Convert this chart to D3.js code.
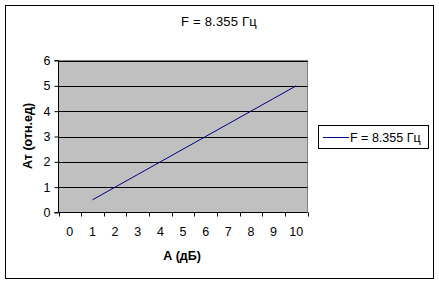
<!DOCTYPE html>
<html>
<head>
<meta charset="utf-8">
<script src="https://cdn.jsdelivr.net/npm/d3@7"></script>
<style>
  body { margin: 0; background: #fff; }
  text { font-family: Arial, "Liberation Sans", sans-serif; }
</style>
</head>
<body>
<div id="chart"></div>
<script>
// data
var categories = ["0", "1", "2", "3", "4", "5", "6", "7", "8", "9", "10"];
var values = [null, 0.5, 1, 1.5, 2, 2.5, 3, 3.5, 4, 4.5, 5];
var yTicks = [0, 1, 2, 3, 4, 5, 6];
var seriesName = "F = 8.355 Гц";
var titleText = "F = 8.355 Гц";
var xTitle = "А (дБ)";
var yTitle = "Ат (отн.ед)";

var W = 439, H = 284;
var plot = {left: 58.5, right: 307.5, top: 60.5, bottom: 212.5};

var svg = d3.select("#chart")
    .append("svg")
    .attr("width", W)
    .attr("height", H);

// outer chart border
svg.append("rect")
    .attr("x", 5.5).attr("y", 5.5)
    .attr("width", 428).attr("height", 273)
    .style("fill", "#fff")
    .style("stroke", "#000");

var x = d3.scaleBand()
    .domain(categories)
    .range([plot.left, plot.right])
    .padding(0);

var y = d3.scaleLinear()
    .domain([0, 6])
    .range([plot.bottom, plot.top]);

// plot area
svg.append("rect")
    .attr("x", plot.left).attr("y", plot.top)
    .attr("width", plot.right - plot.left)
    .attr("height", plot.bottom - plot.top)
    .style("fill", "#c0c0c0")
    .style("stroke", "#808080");

// gridlines
svg.selectAll("line.grid")
    .data(yTicks.filter(function(d) { return d > 0; }))
    .enter().append("line")
    .attr("class", "grid")
    .attr("x1", plot.left).attr("x2", plot.right)
    .attr("y1", function(d) { return Math.round(y(d)) + 0.5; })
    .attr("y2", function(d) { return Math.round(y(d)) + 0.5; })
    .style("stroke", "#000");

// y axis
var yAxis = svg.append("g")
    .attr("transform", "translate(" + plot.left + ",0)")
    .call(d3.axisLeft(y).tickValues(yTicks).tickSize(4).tickPadding(4).tickFormat(d3.format("d")));
yAxis.select(".domain").attr("d", "M-4," + plot.top + "H0V" + plot.bottom + "H-4").style("stroke", "#000");
yAxis.selectAll("text").style("font-size", "12.5px").style("fill", "#000");
yAxis.selectAll("line").style("stroke", "#000");

// x axis: labels centred in bands, ticks on band edges
var xAxis = svg.append("g")
    .attr("transform", "translate(0," + plot.bottom + ")");
xAxis.append("line")
    .attr("x1", plot.left).attr("x2", plot.right)
    .attr("y1", 0).attr("y2", 0)
    .style("stroke", "#000");
var edges = categories.map(function(c) { return x(c); }).concat([plot.right]);
xAxis.selectAll("line.tick")
    .data(edges)
    .enter().append("line")
    .attr("class", "tick")
    .attr("x1", function(d) { return Math.round(d) + 0.5; })
    .attr("x2", function(d) { return Math.round(d) + 0.5; })
    .attr("y1", 0).attr("y2", 4)
    .style("stroke", "#000");
xAxis.selectAll("text")
    .data(categories)
    .enter().append("text")
    .attr("x", function(d) { return x(d) + x.bandwidth() / 2; })
    .attr("y", 23)
    .attr("text-anchor", "middle")
    .style("font-size", "12.5px")
    .text(function(d) { return d; });

// series line
var line = d3.line()
    .defined(function(d) { return d != null; })
    .x(function(d, i) { return x(categories[i]) + x.bandwidth() / 2; })
    .y(function(d) { return y(d); });
svg.append("path")
    .datum(values)
    .attr("d", line)
    .style("fill", "none")
    .style("stroke", "#000080")
    .style("stroke-width", 1);

// title
svg.append("text")
    .attr("x", 219).attr("y", 26)
    .attr("text-anchor", "middle")
    .style("font-size", "13px")
    .style("letter-spacing", "0.2px")
    .text(titleText);

// axis titles
svg.append("text")
    .attr("x", 182).attr("y", 260)
    .attr("text-anchor", "middle")
    .style("font-size", "12.5px")
    .style("font-weight", "bold")
    .text(xTitle);

svg.append("text")
    .attr("transform", "translate(32,136) rotate(-90)")
    .attr("text-anchor", "middle")
    .style("font-size", "12.5px")
    .style("font-weight", "bold")
    .text(yTitle);

// legend
var legend = svg.append("g");
legend.append("rect")
    .attr("x", 318.5).attr("y", 125.5)
    .attr("width", 110).attr("height", 23)
    .style("fill", "#fff")
    .style("stroke", "#000");
legend.append("line")
    .attr("x1", 323).attr("x2", 349)
    .attr("y1", 137.5).attr("y2", 137.5)
    .style("stroke", "#000080");
legend.append("text")
    .attr("x", 350).attr("y", 141.5)
    .style("font-size", "12.5px")
    .text(seriesName);
</script>
</body>
</html>
